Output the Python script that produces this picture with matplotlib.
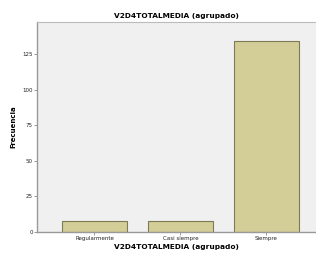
import matplotlib
matplotlib.use("Agg")
import matplotlib.pyplot as plt

categories = ["Regularmente", "Casi siempre", "Siempre"]
counts = [8, 8, 134]
yticks = [0, 25, 50, 75, 100, 125]

fig = plt.figure(figsize=(3.16, 2.59), dpi=100)
ax = fig.add_axes([0.117, 0.104, 0.883, 0.811])
ax.set_facecolor("#f0f0f0")

pos = list(range(len(categories)))
ax.bar(pos, counts, width=0.756, color="#d3ce97", edgecolor="#7d7a55", linewidth=0.8)

ax.set_xlim(-0.67, 2.58)
ax.set_ylim(0, 147.5)
ax.set_xticks(pos)
ax.set_xticklabels(categories)
ax.set_yticks(yticks)
ax.tick_params(labelsize=4, length=2, width=0.6, color="#888888", pad=1, labelcolor="#222222")

for s in ["left", "bottom"]:
    ax.spines[s].set_color("#999999")
    ax.spines[s].set_linewidth(1.0)
ax.spines["top"].set_color("#bbbbbb")
ax.spines["right"].set_visible(False)

ax.set_title("V2D4TOTALMEDIA (agrupado)", fontsize=5.3, fontweight="bold", pad=3)
ax.set_xlabel("V2D4TOTALMEDIA (agrupado)", fontsize=5.3, fontweight="bold", labelpad=2)
ax.set_ylabel("Frecuencia", fontsize=5, fontweight="bold", labelpad=4)

fig.savefig("out.png", dpi=100)
